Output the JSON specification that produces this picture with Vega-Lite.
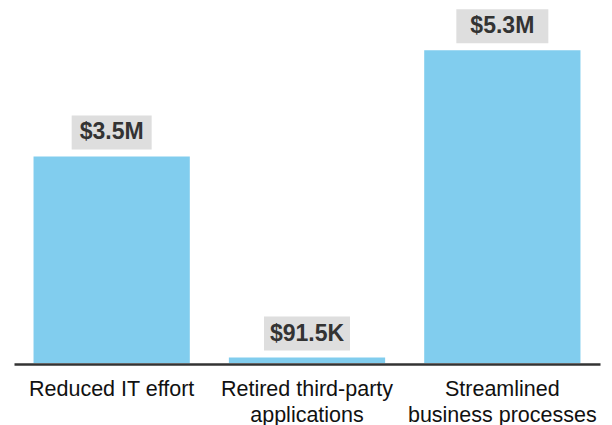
{
  "$schema": "https://vega.github.io/schema/vega-lite/v6.json",
  "width": 586,
  "height": 363,
  "autosize": {"type": "none"},
  "padding": {"left": 14, "top": 0, "right": 12, "bottom": 62},
  "background": "#ffffff",
  "config": {
    "view": {"stroke": null},
    "font": "Liberation Sans"
  },
  "data": {
    "values": [
      {"category": "Reduced IT effort", "value": 3.5, "label": "$3.5M"},
      {"category": "Retired third-party applications", "value": 0.0915, "label": "$91.5K"},
      {"category": "Streamlined business processes", "value": 5.3, "label": "$5.3M"}
    ]
  },
  "encoding": {
    "x": {
      "field": "category",
      "type": "nominal",
      "sort": null,
      "scale": {"paddingInner": 0.2, "paddingOuter": 0.1},
      "axis": {
        "title": null,
        "labelAngle": 0,
        "ticks": false,
        "domainColor": "#333333",
        "domainWidth": 2.5,
        "offset": 1,
        "labelFont": "Liberation Sans",
        "labelFontSize": 21.5,
        "labelColor": "#111111",
        "labelPadding": 14,
        "labelLineHeight": 26,
        "labelLimit": 0,
        "labelOverlap": false,
        "labelExpr": "datum.label == 'Retired third-party applications' ? ['Retired third-party', 'applications'] : datum.label == 'Streamlined business processes' ? ['Streamlined', 'business processes'] : datum.label"
      }
    }
  },
  "layer": [
    {
      "mark": {"type": "bar", "color": "#81CDEE"},
      "encoding": {
        "y": {
          "field": "value",
          "type": "quantitative",
          "scale": {"domain": [0, 6.15], "nice": false, "zero": true},
          "axis": null
        }
      }
    },
    {
      "mark": {"type": "bar", "color": "#DEDEDE", "yOffset": -41, "y2Offset": -7},
      "encoding": {
        "y": {"field": "value", "type": "quantitative"},
        "y2": {"field": "value"},
        "size": {
          "field": "category",
          "type": "ordinal",
          "scale": {
            "domain": ["Reduced IT effort", "Retired third-party applications", "Streamlined business processes"],
            "range": [80, 92, 81]
          },
          "legend": null
        }
      }
    },
    {
      "mark": {
        "type": "text",
        "yOffset": -24,
        "baseline": "middle",
        "align": "center",
        "font": "Liberation Sans",
        "fontSize": 23,
        "fontWeight": "bold",
        "color": "#333333"
      },
      "encoding": {
        "y": {"field": "value", "type": "quantitative"},
        "text": {"field": "label"}
      }
    }
  ]
}
